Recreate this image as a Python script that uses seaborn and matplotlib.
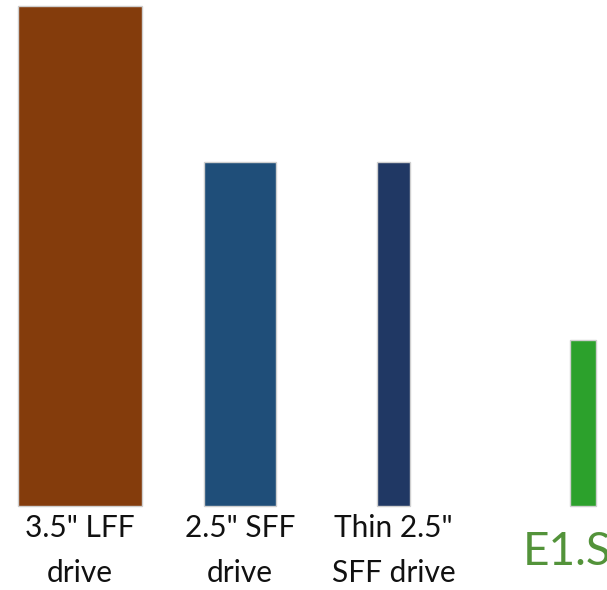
import matplotlib
matplotlib.use("Agg")
import matplotlib.pyplot as plt
import seaborn as sns
import pandas as pd

# ---- data (drive dimensions, mm) ----
categories = ['3.5" LFF\ndrive', '2.5" SFF\ndrive', 'Thin 2.5"\nSFF drive', 'E1.S']
heights_mm = [101.6, 69.85, 69.85, 33.75]
thickness_mm = [25.2, 14.8, 6.7, 5.1]

# ---- layout / style ----
centers = [16.26, 48.78, 79.98, 118.5]
colors = ["#843C0C", "#1F4E79", "#203864", "#2CA12C"]
PX_PER_MM = 4.92

sns.set_theme(style="white")
plt.rcParams["font.family"] = ["Lato", "DejaVu Sans"]

fig = plt.figure(figsize=(6.07, 5.90), dpi=100)
ax = fig.add_axes([0, 0, 1, 1])

df = pd.DataFrame({"label": categories, "height": heights_mm, "center": centers})
sns.barplot(data=df, x="center", y="height", hue="label", hue_order=categories,
            palette=colors, native_scale=True, dodge=False, legend=False,
            saturation=1, edgecolor="#cfcfcf", linewidth=1.0, ax=ax)

bars = sorted(ax.patches, key=lambda p: p.get_x())
for p, c, t in zip(bars, centers, thickness_mm):
    p.set_width(t)
    p.set_x(c - t / 2)

ax.set_xlim(0, 607 / PX_PER_MM)
ax.set_ylim(-84 / PX_PER_MM, 506 / PX_PER_MM)
ax.set_axis_off()

base_y = -76 / PX_PER_MM
for c, lab in zip(centers[:3], categories[:3]):
    ax.text(c, base_y, lab, ha="center", va="baseline", fontsize=21.5,
            linespacing=1.76, color="#111111")

ax.text(523 / PX_PER_MM, -59 / PX_PER_MM, categories[3], ha="left", va="baseline",
        fontsize=33, color="#53933A", clip_on=False)

fig.savefig("out.png", dpi=100, facecolor="white")
